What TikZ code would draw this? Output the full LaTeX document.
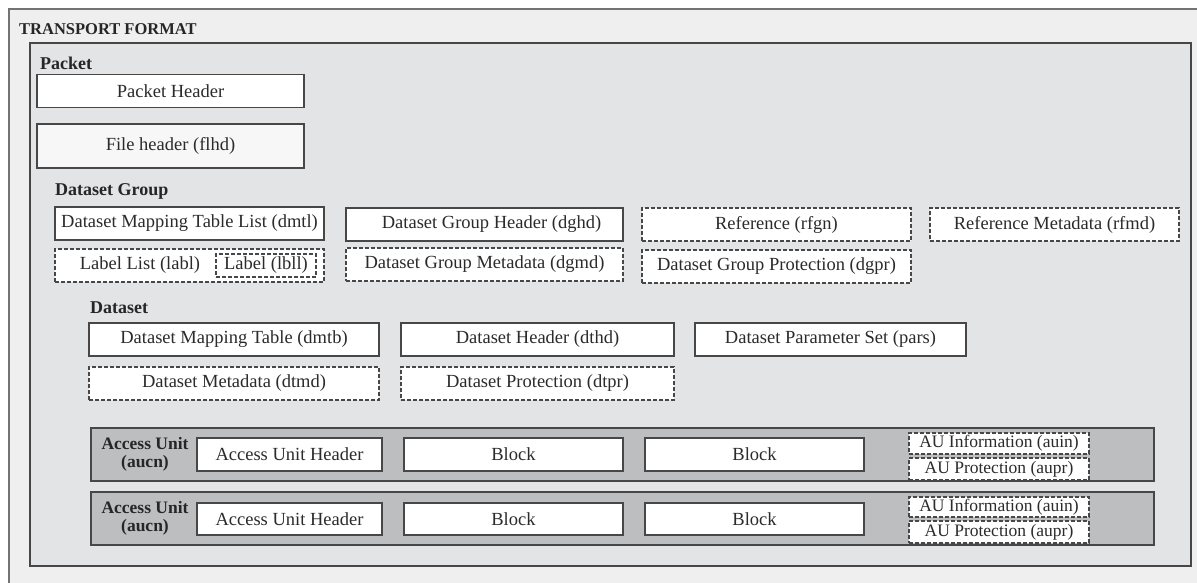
\documentclass[tikz,border=0pt]{standalone}
\usepackage{fontspec}
\setmainfont{Liberation Serif}
\definecolor{outerbg}{HTML}{EFEFEF}
\definecolor{packetbg}{HTML}{E3E4E6}
\definecolor{aubg}{HTML}{BDBEC0}
\definecolor{edge}{HTML}{474747}
\definecolor{ink}{HTML}{2B2B2B}
\tikzset{
  lbl/.style={font=\fontsize{18.5}{20}\selectfont, text=ink},
  ttl/.style={font=\fontsize{18}{20}\selectfont\bfseries, text=black!85, inner sep=0pt},
  solidbox/.style={draw=edge, line width=1.8pt, fill=white, inner sep=0pt,
    minimum height=33pt, lbl},
  dashbox/.style={draw=edge, line width=1.6pt, dash pattern=on 4pt off 2pt,
    fill=white, inner sep=0pt, minimum height=33pt, lbl},
  aubox/.style={dashbox, minimum width=180pt,
    font=\fontsize{17.5}{19}\selectfont},
  container/.style={draw=edge, line width=2pt},
}
\begin{document}
\begin{tikzpicture}[x=1pt, y=-1pt]
\clip (0,0) rectangle (1197,583);
\fill[white] (0,0) rectangle (1197,583);

% transport format frame
\draw[draw=black!55, line width=2pt, fill=outerbg] (9,9) rectangle (1215,600);
\node[ttl, anchor=base west, font=\fontsize{16.5}{18}\selectfont\bfseries] (tf) at (19,35) {TRANSPORT FORMAT};

% packet
\draw[container, fill=packetbg] (30,43) rectangle (1191,566);
\node[ttl, anchor=base west] (pk) at (40,70) {Packet};
\node[solidbox, minimum width=267pt] (phdr) at (170.5,91) {Packet Header};
\node[solidbox, minimum width=267pt, minimum height=44pt, fill=black!3] (flhd) at (170.5,146) {File header (flhd)};

% dataset group
\node[ttl, anchor=base west] (dg) at (55,196) {Dataset Group};
\node[solidbox, minimum width=269pt] (dmtl) at (189.5,223.5) {Dataset Mapping Table List (dmtl)};
\node[solidbox, minimum width=277pt] (dghd) at (484.5,224.5) {\hspace{14pt}Dataset Group Header (dghd)};
\node[dashbox, minimum width=269pt] (rfgn) at (776.5,224.5) {Reference (rfgn)};
\node[dashbox, minimum width=249pt] (rfmd) at (1054.5,224.5) {Reference Metadata (rfmd)};
\node[dashbox, minimum width=269pt] (labl) at (189.5,265.5) {};
\node[lbl, inner sep=0pt] (labltxt) at (140,265.5) {Label List (labl)};
\node[dashbox, minimum width=100pt, minimum height=23pt] (lbll) at (266,265.5) {Label (lbll)};
\node[dashbox, minimum width=277pt] (dgmd) at (484.5,264.5) {Dataset Group Metadata (dgmd)};
\node[dashbox, minimum width=269pt] (dgpr) at (776.5,266.5) {Dataset Group Protection (dgpr)};

% dataset
\node[ttl, anchor=base west] (ds) at (90,313) {Dataset};
\node[solidbox, minimum width=290pt] (dmtb) at (234,339.5) {Dataset Mapping Table (dmtb)};
\node[solidbox, minimum width=273pt] (dthd) at (537.5,339.5) {Dataset Header (dthd)};
\node[solidbox, minimum width=271pt] (pars) at (830.5,339.5) {Dataset Parameter Set (pars)};
\node[dashbox, minimum width=290pt] (dtmd) at (234,383.5) {Dataset Metadata (dtmd)};
\node[dashbox, minimum width=273pt] (dtpr) at (537.5,383.5) {Dataset Protection (dtpr)};

% access units
\draw[container, fill=aubg] (91,428) rectangle (1154,481);
\node[ttl, align=center, font=\fontsize{17.5}{18}\selectfont\bfseries] (au1) at (145,454) {Access Unit\\(aucn)};
\node[solidbox, minimum width=185pt] (auh1) at (289.5,454.5) {Access Unit Header};
\node[solidbox, minimum width=219pt] (blk1a) at (513.5,454.5) {Block};
\node[solidbox, minimum width=219pt] (blk1b) at (754.5,454.5) {Block};
\node[aubox, minimum height=21pt] (auin1) at (999,443.5) {AU Information (auin)};
\node[aubox, minimum height=22pt] (aupr1) at (999,469) {AU Protection (aupr)};

\draw[container, fill=aubg] (91,492) rectangle (1154,545);
\node[ttl, align=center, font=\fontsize{17.5}{18}\selectfont\bfseries] (au2) at (145,518) {Access Unit\\(aucn)};
\node[solidbox, minimum width=185pt, minimum height=32pt] (auh2) at (289.5,519) {Access Unit Header};
\node[solidbox, minimum width=219pt, minimum height=32pt] (blk2a) at (513.5,519) {Block};
\node[solidbox, minimum width=219pt, minimum height=32pt] (blk2b) at (754.5,519) {Block};
\node[aubox, minimum height=20pt] (auin2) at (999,507) {AU Information (auin)};
\node[aubox, minimum height=22pt] (aupr2) at (999,532) {AU Protection (aupr)};
\end{tikzpicture}
\end{document}
